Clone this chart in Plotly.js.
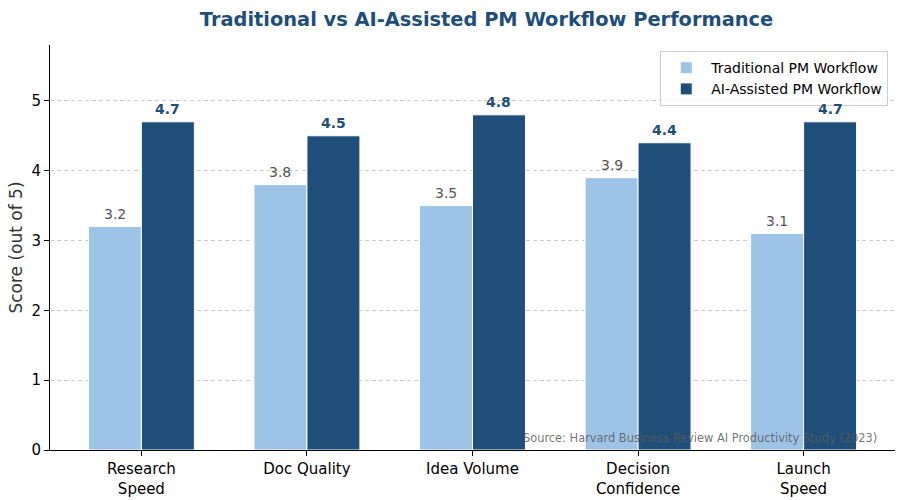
<!DOCTYPE html>
<html>
<head>
<meta charset="utf-8">
<script src="https://cdn.plot.ly/plotly-3.0.1.min.js"></script>
<style>html,body{margin:0;padding:0;background:#fff;}#chart{width:906px;height:500px;}</style>
</head>
<body>
<div id="chart"></div>
<script>
const categories = ["Research<br>Speed", "Doc Quality", "Idea Volume", "Decision<br>Confidence", "Launch<br>Speed"];
const traditional = [3.2, 3.8, 3.5, 3.9, 3.1];
const aiAssisted = [4.7, 4.5, 4.8, 4.4, 4.7];
const seriesNames = ["Traditional PM Workflow", "AI-Assisted PM Workflow"];

const idx = categories.map((_, i) => i);
const font = "DejaVu Sans, Verdana, sans-serif";
const barW = 0.32;

const traces = [
  {
    type: "bar", name: seriesNames[0], x: idx, y: traditional,
    width: barW, offset: -barW,
    marker: {color: "#9dc3e6", line: {color: "#ffffff", width: 1}}
  },
  {
    type: "bar", name: seriesNames[1], x: idx, y: aiAssisted,
    width: barW, offset: 0,
    marker: {color: "#1f4e79", line: {color: "#ffffff", width: 1}}
  }
];

const labelAnns = [];
idx.forEach(i => {
  labelAnns.push({
    x: i - barW / 2, y: traditional[i], xref: "x", yref: "y",
    text: traditional[i].toFixed(1), showarrow: false,
    xanchor: "center", yanchor: "middle", yshift: 13,
    font: {family: font, size: 14, color: "#555555"}
  });
  labelAnns.push({
    x: i + barW / 2, y: aiAssisted[i], xref: "x", yref: "y",
    text: "<b>" + aiAssisted[i].toFixed(1) + "</b>", showarrow: false,
    xanchor: "center", yanchor: "middle", yshift: 13,
    font: {family: font, size: 14, color: "#1f4e79"}
  });
});

const layout = {
  width: 906, height: 500,
  margin: {l: 50, r: 11, t: 45, b: 50},
  paper_bgcolor: "#ffffff", plot_bgcolor: "#ffffff",
  font: {family: font, size: 14, color: "#000"},
  title: {text: "<b>Traditional vs AI-Assisted PM Workflow Performance</b>",
          font: {family: font, size: 19.4, color: "#1f4e79"},
          xref: "container", x: 0.537, xanchor: "center", y: 0.962, yanchor: "middle"},
  showlegend: true,
  legend: {x: 0.992, xanchor: "right", y: 0.985, yanchor: "top",
           bordercolor: "#cccccc", borderwidth: 1, bgcolor: "rgba(255,255,255,0.8)",
           font: {family: font, size: 14, color: "#000"}, traceorder: "normal",
           tracegroupgap: 0, itemwidth: 40},
  xaxis: {
    range: [-0.552, 4.552], tickmode: "array", tickvals: idx, ticktext: categories,
    showgrid: false, zeroline: false, showline: true, linecolor: "#000", linewidth: 1,
    ticks: "outside", ticklen: 5, tickcolor: "#000",
    tickfont: {family: font, size: 15, color: "#000"}
  },
  yaxis: {
    range: [0, 5.8], tickvals: [0,1,2,3,4,5],
    showgrid: true, gridcolor: "#cccccc", griddash: "4px,3px", gridwidth: 1,
    zeroline: false, showline: true, linecolor: "#000", linewidth: 1,
    ticks: "outside", ticklen: 5, tickcolor: "#000",
    tickfont: {family: font, size: 15, color: "#000"},
    title: {text: "Score (out of 5)", font: {family: font, size: 17, color: "#333"}, standoff: 4}
  },
  annotations: labelAnns.concat([{
    text: "Source: Harvard Business Review AI Productivity Study (2023)",
    xref: "paper", yref: "paper", x: 0.981, y: 0.03, xanchor: "right", yanchor: "middle",
    showarrow: false, font: {family: font, size: 11.4, color: "rgba(90,90,90,0.85)"}
  }])
};

Plotly.newPlot("chart", traces, layout, {displayModeBar: false, staticPlot: true});
</script>
</body>
</html>
